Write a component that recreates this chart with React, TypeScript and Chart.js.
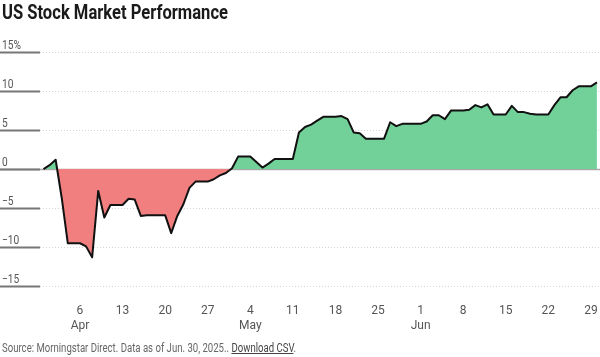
import React, { useEffect, useRef } from "react";
import { Chart, registerables } from "chart.js";

Chart.register(...registerables);

// Day index 0 = Mar 31, 2025 ... 91 = Jun 30, 2025 (cumulative % return)
const returns: number[] = [
  0, 0.5, 1.2, -3.7, -9.5, -9.5, -9.5, -9.9, -11.3, -2.8,
  -6.2, -4.6, -4.6, -4.6, -3.8, -3.9, -6.0, -5.9, -5.9, -5.9,
  -5.9, -8.2, -6.0, -4.5, -2.4, -1.6, -1.6, -1.6, -1.3, -0.8,
  -0.5, 0.1, 1.6, 1.6, 1.6, 0.9, 0.2, 0.7, 1.3, 1.3,
  1.3, 1.3, 4.7, 5.4, 5.7, 6.2, 6.7, 6.7, 6.7, 6.8,
  6.4, 4.7, 4.6, 3.9, 3.9, 3.9, 3.9, 6.0, 5.5, 5.8,
  5.8, 5.8, 5.8, 6.1, 6.9, 6.9, 6.4, 7.5, 7.5, 7.5,
  7.6, 8.2, 7.9, 8.3, 7.0, 7.0, 7.0, 8.1, 7.3, 7.3,
  7.1, 7.0, 7.0, 7.0, 8.2, 9.2, 9.2, 10.1, 10.6, 10.6,
  10.6, 11.1,
];
const dayIndex: number[] = returns.map((_, i) => i);

const tickDays: number[] = [6, 13, 20, 27, 34, 41, 48, 55, 62, 69, 76, 83, 90];
const tickDayLabels: string[] = ["6", "13", "20", "27", "4", "11", "18", "25", "1", "8", "15", "22", "29"];
const tickMonthLabels: string[] = ["Apr", "", "", "", "May", "", "", "", "Jun", "", "", "", ""];

const yGridValues: number[] = [15, 10, 5, 0, -5, -10, -15];
const yGridLabels: string[] = ["15%", "10", "5", "0", "\u22125", "\u221210", "\u221215"];

const FONT = 'Roboto, "Liberation Sans", sans-serif';

const gridPlugin = {
  id: "customGrid",
  beforeDatasetsDraw(chart: any) {
    const { ctx, width } = chart;
    const y = chart.scales.y;
    ctx.save();
    yGridValues.forEach((v, k) => {
      const py = Math.round(y.getPixelForValue(v)) + 0.5;
      if (v === 0) {
        ctx.strokeStyle = "#a8a8a8";
        ctx.lineWidth = 1.5;
        ctx.setLineDash([]);
        ctx.beginPath();
        ctx.moveTo(0, py);
        ctx.lineTo(width, py);
        ctx.stroke();
      } else {
        ctx.strokeStyle = "#d4d4d4";
        ctx.lineWidth = 1;
        ctx.setLineDash([1, 2]);
        ctx.beginPath();
        ctx.moveTo(40, py);
        ctx.lineTo(width, py);
        ctx.stroke();
      }
      ctx.setLineDash([]);
      ctx.strokeStyle = "#777";
      ctx.lineWidth = 2;
      ctx.beginPath();
      ctx.moveTo(0, py);
      ctx.lineTo(40, py);
      ctx.stroke();
      ctx.save();
      ctx.translate(2, py - 4);
      ctx.scale(0.85, 1);
      ctx.fillStyle = "#555";
      ctx.font = "12px " + FONT;
      ctx.textAlign = "left";
      ctx.textBaseline = "alphabetic";
      ctx.fillText(yGridLabels[k], 0, 0);
      ctx.restore();
    });
    ctx.restore();
  },
};

function fitWidth(el: HTMLElement | null, target: number) {
  if (!el) return;
  el.style.transform = "none";
  const w = el.getBoundingClientRect().width;
  if (w > 0) el.style.transform = `scaleX(${target / w})`;
}

export default function App() {
  const ref = useRef<HTMLCanvasElement | null>(null);
  const titleRef = useRef<HTMLDivElement | null>(null);
  const srcRef = useRef<HTMLDivElement | null>(null);

  useEffect(() => {
    document.body.style.margin = "0";
    fitWidth(titleRef.current, 226);
    fitWidth(srcRef.current, 294);
    const canvas = ref.current;
    if (!canvas) return;
    const chart = new Chart(canvas, {
      type: "line",
      data: {
        datasets: [
          {
            data: dayIndex.map((d, i) => ({ x: d, y: returns[i] })),
            borderColor: "#111",
            borderWidth: 2,
            borderJoinStyle: "round",
            pointRadius: 0,
            tension: 0,
            fill: { target: "origin", above: "#72d198", below: "#f17f7f" },
          },
        ],
      },
      options: {
        responsive: false,
        animation: false,
        layout: { padding: { top: 52, bottom: 6, left: 0, right: 0 } },
        plugins: { legend: { display: false }, tooltip: { enabled: false } },
        scales: {
          x: {
            type: "linear",
            min: -7.15,
            max: 91.5,
            grid: { display: false, drawTicks: false },
            border: { display: false },
            afterBuildTicks: (scale: any) => {
              scale.ticks = tickDays.map((v) => ({ value: v }));
            },
            afterFit: (scale: any) => {
              scale.paddingLeft = 0;
              scale.paddingRight = 0;
            },
            ticks: {
              autoSkip: false,
              maxRotation: 0,
              padding: 18,
              color: "#555",
              font: { family: FONT, size: 12 },
              callback: (value: any) => {
                const k = tickDays.indexOf(Number(value));
                if (k < 0) return "";
                return tickMonthLabels[k] ? [tickDayLabels[k], tickMonthLabels[k]] : tickDayLabels[k];
              },
            },
          },
          y: {
            display: false,
            min: -15,
            max: 15,
          },
        },
      },
      plugins: [gridPlugin],
    });
    return () => chart.destroy();
  }, []);

  return (
    <div style={{ position: "relative", width: 600, height: 357, background: "#fff", overflow: "hidden" }}>
      <canvas ref={ref} width={600} height={357} style={{ position: "absolute", left: 0, top: 0, width: 600, height: 357 }} />
      <div
        ref={titleRef}
        style={{
          position: "absolute",
          left: 2,
          top: 0,
          fontFamily: FONT,
          fontWeight: 700,
          fontSize: 20,
          lineHeight: "24px",
          color: "#1a1a1a",
          whiteSpace: "nowrap",
          transformOrigin: "0 0",
        }}
      >
        US Stock Market Performance
      </div>
      <div
        ref={srcRef}
        style={{
          position: "absolute",
          left: 2,
          top: 340,
          fontFamily: FONT,
          fontSize: 12.5,
          lineHeight: "16px",
          color: "#666",
          whiteSpace: "nowrap",
          transformOrigin: "0 0",
        }}
      >
        Source: Morningstar Direct. Data as of Jun. 30, 2025.. <span style={{ textDecoration: "underline", color: "#444" }}>Download CSV</span>.
      </div>
    </div>
  );
}
